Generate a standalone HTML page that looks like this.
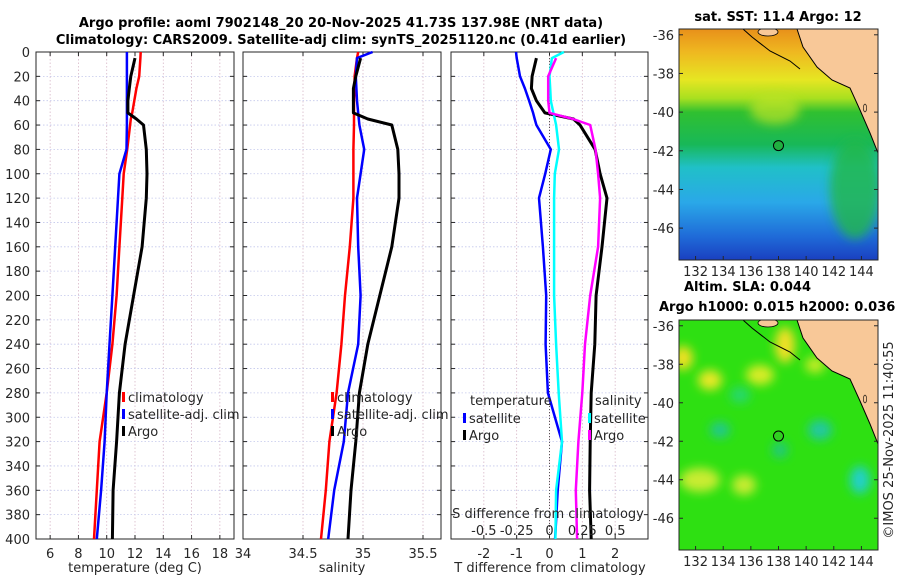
<!DOCTYPE html>
<html><head><meta charset="utf-8"><style>
body{margin:0;background:#fff;}
svg{display:block;font-family:"DejaVu Sans","Liberation Sans",sans-serif;}
</style></head><body>
<svg id="fig" width="900" height="580" viewBox="0 0 900 580">
<defs>
<linearGradient id="sstg" x1="0" y1="0" x2="0" y2="1">
<stop offset="0" stop-color="#e8901a"/><stop offset="0.1" stop-color="#efb820"/><stop offset="0.22" stop-color="#e6e622"/><stop offset="0.3" stop-color="#a8e020"/><stop offset="0.36" stop-color="#30c030"/><stop offset="0.5" stop-color="#18b858"/><stop offset="0.6" stop-color="#20c0c8"/><stop offset="0.75" stop-color="#2aa8e8"/><stop offset="0.9" stop-color="#1f6ad8"/><stop offset="1" stop-color="#1a40c0"/>
</linearGradient>
<filter id="blur" x="-50%" y="-50%" width="200%" height="200%"><feGaussianBlur stdDeviation="5"/></filter>
<clipPath id="m1c"><rect x="679" y="29" width="199" height="231"/></clipPath>
<clipPath id="m2c"><rect x="679" y="320" width="199" height="230"/></clipPath>
</defs>
<g id="plots"></g>
</svg>
<script>
// ---------- data ----------
const depths = [0,5,20,30,40,50,55,60,80,100,120,160,200,240,280,320,360,400];
const tempClim = [12.4,12.38,12.3,12.1,11.95,11.8,11.7,11.65,11.45,11.2,11.1,10.9,10.7,10.4,10.0,9.5,9.3,9.1];
const tempSat  = [11.43,11.43,11.43,11.43,11.43,11.43,11.43,11.43,11.4,10.9,10.8,10.6,10.4,10.2,10.0,9.85,9.6,9.3];
const tempArgo = [null,12.0,11.7,11.6,11.5,11.5,12.1,12.6,12.8,12.85,12.8,12.5,11.9,11.3,10.9,10.7,10.45,10.4];
const salClim  = [34.96,34.95,34.93,34.93,34.925,34.925,34.925,34.925,34.92,34.92,34.92,34.89,34.85,34.82,34.78,34.72,34.69,34.65];
const salSat   = [35.08,34.95,34.94,34.945,34.95,34.96,34.965,34.97,35.01,34.98,34.95,34.96,34.98,34.96,34.875,34.84,34.76,34.71];
const salArgo  = [null,34.98,34.94,34.92,34.92,34.92,35.04,35.24,35.29,35.3,35.3,35.24,35.14,35.04,34.97,34.94,34.9,34.875];
const tdSat    = [-1.02,-1.0,-0.9,-0.75,-0.62,-0.5,-0.45,-0.4,0.04,-0.13,-0.32,-0.2,-0.1,-0.12,-0.05,0.38,0.25,0.17];
const tdArgo   = [null,-0.4,-0.53,-0.55,-0.4,-0.14,0.73,0.93,1.39,1.54,1.75,1.6,1.42,1.38,1.27,1.24,1.22,1.27];
const sdSat    = [0.11,0.018,0.0,0.005,0.01,0.03,0.04,0.05,0.072,0.04,0.035,0.035,0.035,0.05,0.07,0.095,0.05,0.045];
const sdArgo   = [null,0.05,-0.01,-0.01,-0.01,0.0,0.18,0.31,0.35,0.37,0.385,0.37,0.31,0.27,0.25,0.22,0.2,0.21];
const depthTicks = [0,20,40,60,80,100,120,140,160,180,200,220,240,260,280,300,320,340,360,380,400];
const tempTicks = [6,8,10,12,14,16,18];
const salTicks = [34,34.5,35,35.5];
const tdTicks = [-2,-1,0,1,2];
const sdTicks = [-0.5,-0.25,0,0.25,0.5];
const latTicks = [-36,-38,-40,-42,-44,-46];
const lonTicks = [132,134,136,138,140,142,144];
const argoPos = [138, -41.73];

// ---------- helpers ----------
const NS='http://www.w3.org/2000/svg';
const root=document.getElementById('plots');
function mk(tag,attrs,parent){const e=document.createElementNS(NS,tag);for(const k in attrs)e.setAttribute(k,attrs[k]);(parent||root).appendChild(e);return e;}
function txt(x,y,s,opt,parent){const e=mk('text',Object.assign({x:x,y:y,'font-size':13,fill:'#262626'},opt||{}),parent);e.textContent=s;return e;}
const Y0=52,Y1=539;
function yD(d){return Y0+(d/400)*(Y1-Y0);}
function lin(d0,d1,p0,p1){return v=>p0+(v-d0)/(d1-d0)*(p1-p0);}

function panel(name,x0,x1,xs,ticks,fmt,showY){
  const g=mk('g',{});
  
  
  ticks.forEach(t=>{const x=xs(t);if(x>x0+1&&x<x1-1)mk('line',{x1:x,x2:x,y1:Y0,y2:Y1,stroke:'#d8b8c8','stroke-width':0.8,'stroke-dasharray':'1.5,2'},g);});
  depthTicks.forEach(d=>{const y=yD(d);mk('line',{x1:x0,x2:x1,y1:y,y2:y,stroke:'#c4c8ec','stroke-width':0.8,'stroke-dasharray':'1.5,2'},g);
    mk('line',{x1:x0,x2:x0+4,y1:y,y2:y,stroke:'#262626','stroke-width':1},g);mk('line',{x1:x1-4,x2:x1,y1:y,y2:y,stroke:'#262626','stroke-width':1},g);
    if(showY){const t=txt(x0-6,y+5,String(d),{'text-anchor':'end'},g);}});
  ticks.forEach(t=>{const x=xs(t);mk('line',{x1:x,x2:x,y1:Y1,y2:Y1-4,stroke:'#262626'},g);mk('line',{x1:x,x2:x,y1:Y0,y2:Y0+4,stroke:'#262626'},g);
    const l=txt(x,558,fmt(t),{'text-anchor':'middle'},g);});
  mk('rect',{x:x0,y:Y0,width:x1-x0,height:Y1-Y0,fill:'none',stroke:'#262626','stroke-width':1},g);
  return g;
}
function series(name,g,xs,vals,color,w,scale){
  let pts=[];depths.forEach((d,i)=>{if(vals[i]!==null)pts.push(xs(vals[i]*(scale||1)).toFixed(1)+','+yD(d).toFixed(1));});
  const p=mk('polyline',{points:pts.join(' '),fill:'none',stroke:color,'stroke-width':w,'stroke-linejoin':'round'},g);
  
  
}
function legend(g,x,y,color,label,name){
  mk('rect',{x:x-3,y:y-9,width:3,height:10,fill:color},g);
  const t=txt(x+3,y+1,label,{},g);
  
  
}

// ---------- titles ----------
const t1=txt(341,27,'Argo profile: aoml 7902148_20 20-Nov-2025 41.73S 137.98E (NRT data)',{'text-anchor':'middle','font-weight':'bold',fill:'#000'});


const t2=txt(341,44,'Climatology: CARS2009. Satellite-adj clim: synTS_20251120.nc (0.41d earlier)',{'text-anchor':'middle','font-weight':'bold',fill:'#000'});



// ---------- panel 1: temperature ----------
const xT=lin(5,19,36,234);
const p1=panel('temperature-panel',36,234,xT,tempTicks,String,true);
series('temp-climatology-line',p1,xT,tempClim,'#ff0000',2.5);
series('temp-satellite-line',p1,xT,tempSat,'#0000ff',2.5);
series('temp-argo-line',p1,xT,tempArgo,'#000',3);
legend(p1,125,401,'#ff0000','climatology','legend-climatology');
legend(p1,125,418,'#0000ff','satellite-adj. clim','legend-satellite');
legend(p1,125,435,'#000','Argo','legend-argo');
const xl1=txt(135,572,'temperature (deg C)',{'text-anchor':'middle'},p1);



// ---------- panel 2: salinity ----------
const xS=lin(34,35.65,243,441);
const p2=panel('salinity-panel',243,441,xS,salTicks,String,false);
series('sal-climatology-line',p2,xS,salClim,'#ff0000',2.5);
series('sal-satellite-line',p2,xS,salSat,'#0000ff',2.5);
series('sal-argo-line',p2,xS,salArgo,'#000',3);
legend(p2,334,401,'#ff0000','climatology','legend-climatology-2');
legend(p2,334,418,'#0000ff','satellite-adj. clim','legend-satellite-2');
legend(p2,334,435,'#000','Argo','legend-argo-2');
const xl2=txt(342,572,'salinity',{'text-anchor':'middle'},p2);



// ---------- panel 3: differences ----------
const xD=lin(-3,3,451,648);
const p3=panel('difference-panel',451,648,xD,tdTicks,String,false);
mk('line',{x1:xD(0),x2:xD(0),y1:Y0,y2:Y1,stroke:'#555','stroke-width':1,'stroke-dasharray':'1,2'},p3);
series('tdiff-satellite-line',p3,xD,tdSat,'#0000ff',2.5);
series('tdiff-argo-line',p3,xD,tdArgo,'#000',3);
series('sdiff-satellite-line',p3,xD,sdSat,'#00ffff',2.5,4);
series('sdiff-argo-line',p3,xD,sdArgo,'#ff00ff',2.5,4);
const lt=txt(470,405,'temperature',{},p3);


legend(p3,466,422,'#0000ff','satellite','legend-t-satellite');
legend(p3,466,439,'#000','Argo','legend-t-argo');
const ls=txt(595,405,'salinity',{},p3);


legend(p3,591,422,'#00ffff','satellite','legend-s-satellite');
legend(p3,591,439,'#ff00ff','Argo','legend-s-argo');
const sdt=txt(548,518,'S difference from climatology',{'text-anchor':'middle'},p3);


sdTicks.forEach(s=>{const l=txt(xD(s*4),535,String(s),{'text-anchor':'middle'},p3);
  
  });
const xl3=txt(550,572,'T difference from climatology',{'text-anchor':'middle'},p3);



// ---------- maps ----------
const xLon=lin(130.8,145.2,679,878);
function drawMap(name,top,bottom,kind,title1,title2){
  const yLat=lin(-35.7,-47.65,top,bottom);
  const g=mk('g',{});
  
  
  const c=mk('g',{'clip-path':kind==='sst'?'url(#m1c)':'url(#m2c)'},g);
  if(kind==='sst'){
    mk('rect',{x:679,y:top,width:199,height:bottom-top,fill:'url(#sstg)'},c);
    mk('ellipse',{cx:855,cy:top+160,rx:25,ry:50,fill:'#20b848',filter:'url(#blur)',opacity:0.8},c);
    mk('ellipse',{cx:775,cy:top+80,rx:25,ry:15,fill:'#c0e428',filter:'url(#blur)',opacity:0.7},c);
  } else {
    mk('rect',{x:679,y:top,width:199,height:bottom-top,fill:'#2ee012'},c);
    [[683,'#f0e020',38,10,12],[710,'#e8e828',60,12,10],[760,'#d8ec28',55,14,10],[785,'#f0e028',25,10,18],[815,'#c8ec28',45,10,8],[700,'#c8ec30',160,20,12],[744,'#c8ec30',165,12,10],[820,'#20c8a0',110,12,10],[860,'#20d0c8',160,10,14],[780,'#20c880',130,8,8],[720,'#20c890',110,10,8],[740,'#28d870',75,10,8]].forEach(b=>{
      mk('ellipse',{cx:b[0],cy:top+b[2],rx:b[3],ry:b[4],fill:b[1],filter:'url(#blur)'},c);});
  }
  const land=[[797,0],[803,18],[817,38],[832,51],[850,59],[860,81],[870,104],[878,124],[878,0]].map(p=>p[0]+','+(top+p[1])).join(' ');
  mk('polygon',{points:land,fill:'#f8c898',stroke:'#000','stroke-width':1},c);
  mk('polyline',{points:[[743,0],[752,8],[770,22],[790,32],[800,40]].map(p=>p[0]+','+(top+p[1])).join(' '),fill:'none',stroke:'#000','stroke-width':1},c);
  mk('ellipse',{cx:768,cy:top+3,rx:10,ry:4,fill:'#f8c898',stroke:'#000','stroke-width':0.8},c);
  mk('ellipse',{cx:865,cy:top+79,rx:1.5,ry:4,fill:'#f8c898',stroke:'#000','stroke-width':0.6},c);
  const m=mk('circle',{cx:xLon(argoPos[0]),cy:yLat(argoPos[1]),r:5,fill:kind==='sst'?'#20b040':'#30d020',stroke:'#000','stroke-width':1},g);
  
  
  mk('rect',{x:679,y:top,width:199,height:bottom-top,fill:'none',stroke:'#262626','stroke-width':1},g);
  latTicks.forEach(l=>{const y=yLat(l);mk('line',{x1:679,x2:683,y1:y,y2:y,stroke:'#262626'},g);mk('line',{x1:874,x2:878,y1:y,y2:y,stroke:'#262626'},g);
    const t=txt(674,y+5,String(l),{'text-anchor':'end'},g);});
  lonTicks.forEach(l=>{const x=xLon(l);mk('line',{x1:x,x2:x,y1:bottom,y2:bottom-4,stroke:'#262626'},g);
    const t=txt(x,bottom+16,String(l),{'text-anchor':'middle'},g);});
  if(title2){const a=txt(684,top-29,title1,{'font-weight':'bold',fill:'#000'},g);
    const b=txt(659,top-9,title2,{'font-weight':'bold',fill:'#000'},g);}
  else {const a=txt(778,top-8,title1,{'font-weight':'bold',fill:'#000','text-anchor':'middle'},g);}
}
drawMap('sst-map',29,260,'sst','sat. SST: 11.4 Argo: 12');
drawMap('sla-map',320,550,'sla','Altim. SLA: 0.044','Argo h1000: 0.015 h2000: 0.036');
const cr=txt(0,0,'©IMOS 25-Nov-2025 11:40:55',{'text-anchor':'middle',transform:'translate(893,440) rotate(-90)'});


</script>
</body></html>
